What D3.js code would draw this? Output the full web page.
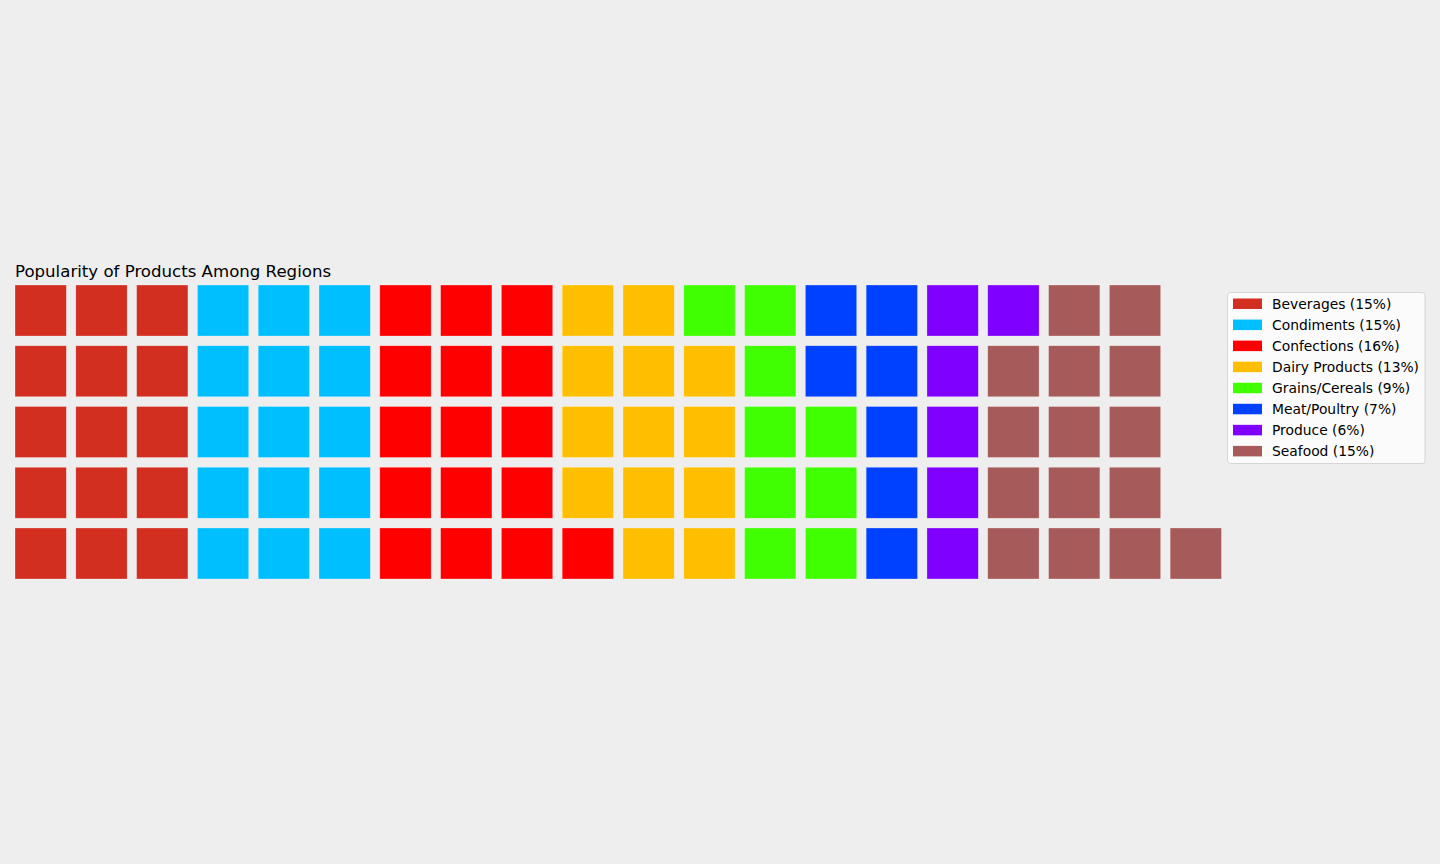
<!DOCTYPE html>
<html>
<head>
<meta charset="utf-8">
<script src="https://cdn.jsdelivr.net/npm/d3@7"></script>
<style>
html,body{margin:0;padding:0;background:#eeeeee;}
svg{display:block;}
</style>
</head>
<body>
<svg id="chart" width="1440" height="864"></svg>
<script>
const categories = ["Beverages","Condiments","Confections","Dairy Products","Grains/Cereals","Meat/Poultry","Produce","Seafood"];
const values = [15,15,16,13,9,7,6,15];
const percents = ["15%","15%","16%","13%","9%","7%","6%","15%"];
const colors = ["#d32f20","#00bfff","#ff0000","#ffbf00","#40ff00","#0040ff","#8000ff","#a65a59"];
const title = "Popularity of Products Among Regions";
// fill order of blocks (column by column, bottom to top), as runs of [category index, count]
const fillRuns = [[0,15],[1,15],[2,16],[3,13],[4,9],[5,7],[6,5],[7,4],[6,1],[7,11]];
const nRows = 5, nCols = 20;

const svg = d3.select("#chart");
svg.append("rect").attr("width",1440).attr("height",864).attr("fill","#eeeeee");

const cells = [];
let idx = 0;
fillRuns.forEach(([ci,n])=>{
  for(let k=0;k<n;k++){
    const col = Math.floor(idx/nRows);
    const rowFromBottom = idx % nRows;
    cells.push({ci:ci, col:col, row:nRows-1-rowFromBottom});
    idx++;
  }
});

const x = d3.scaleBand().domain(d3.range(nCols)).range([15, 1221.5]).paddingInner(0.155).paddingOuter(0);
const y = d3.scaleBand().domain(d3.range(nRows)).range([285, 579]).paddingInner(0.16).paddingOuter(0);

svg.append("g").selectAll("rect").data(cells).join("rect")
  .attr("x",d=>x(d.col))
  .attr("y",d=>y(d.row))
  .attr("width",x.bandwidth())
  .attr("height",y.bandwidth())
  .attr("fill",d=>colors[d.ci])
  .attr("stroke","#ffffff").attr("stroke-opacity",0.5).attr("stroke-width",0.6);

svg.append("text").attr("x",15).attr("y",277)
  .attr("font-family","DejaVu Sans").attr("font-size",16.6).attr("fill","#000")
  .text(title);

// legend
const lg = svg.append("g");
lg.append("rect").attr("x",1227.5).attr("y",292.5).attr("width",197.5).attr("height",171)
  .attr("rx",3).attr("fill","#fbfbfb").attr("stroke","#d6d6d6").attr("stroke-width",1);
const ly = d3.scaleLinear().domain([0,7]).range([303.8, 451.2]);
const items = lg.selectAll("g.item").data(categories).join("g").attr("class","item")
  .attr("transform",(d,i)=>`translate(0,${ly(i)})`);
items.append("rect").attr("x",1233).attr("y",-5.3).attr("width",29).attr("height",10.5)
  .attr("fill",(d,i)=>colors[i]);
items.append("text").attr("x",1272).attr("y",5)
  .attr("font-family","DejaVu Sans").attr("font-size",13.85).attr("fill","#000")
  .text((d,i)=>`${d} (${percents[i]})`);
</script>
</body>
</html>
